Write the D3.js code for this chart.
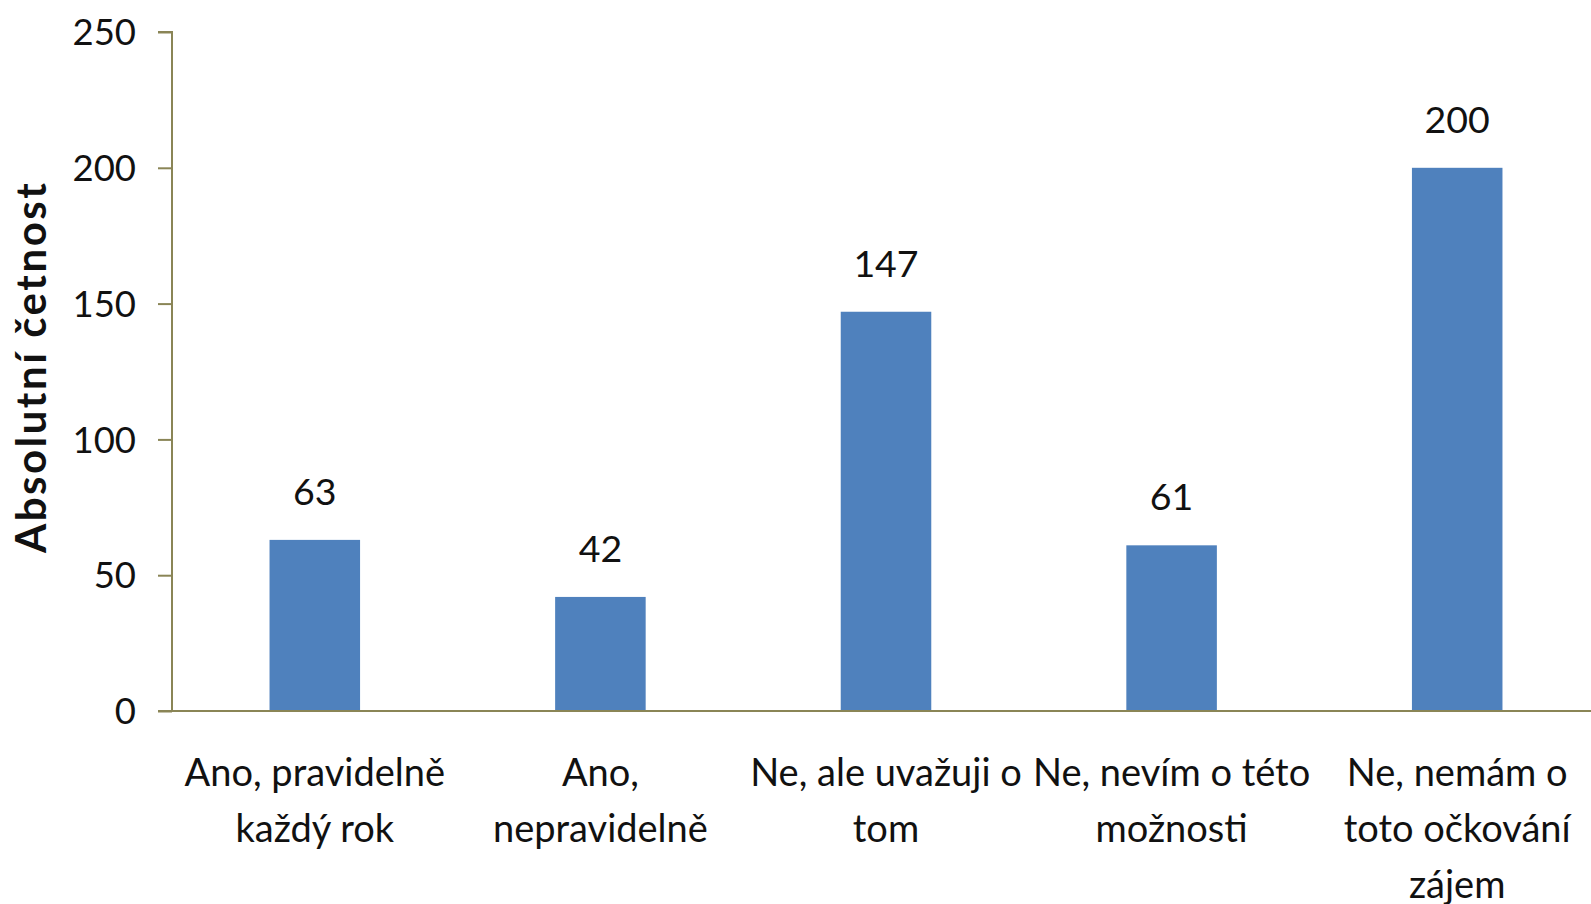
<!DOCTYPE html>
<html>
<head>
<meta charset="utf-8">
<script src="https://cdn.jsdelivr.net/npm/d3@7"></script>
<style>
  html, body { margin: 0; padding: 0; background: #fff; }
  svg { display: block; }
  text { font-family: Lato, "Open Sans", sans-serif; fill: #111; }
</style>
</head>
<body>
<svg id="chart" width="1591" height="904"></svg>
<script>
const categories = [
  "Ano, pravidelně každý rok",
  "Ano, nepravidelně",
  "Ne, ale uvažuji o tom",
  "Ne, nevím o této možnosti",
  "Ne, nemám o toto očkování zájem"
];
const categoryLines = [
  ["Ano, pravidelně", "každý rok"],
  ["Ano,", "nepravidelně"],
  ["Ne, ale uvažuji o", "tom"],
  ["Ne, nevím o této", "možnosti"],
  ["Ne, nemám o", "toto očkování", "zájem"]
];
const values = [63, 42, 147, 61, 200];
const yTicks = [0, 50, 100, 150, 200, 250];
const yTitle = "Absolutní četnost";

const svg = d3.select("#chart");
const mLeft = 172, mRight = 1600, mTop = 32, mBottom = 711, svgW = 1591;
const axisColor = "#8A8556";

const x = d3.scaleBand().domain(categories).range([mLeft, mRight])
  .paddingInner(0.683).paddingOuter(0.3415);
const y = d3.scaleLinear().domain([0, 250]).range([mBottom, mTop]);

// bars
svg.append("g").selectAll("rect").data(values).join("rect")
  .attr("x", (d, i) => x(categories[i]))
  .attr("y", d => y(d))
  .attr("width", x.bandwidth())
  .attr("height", d => y(0) - y(d))
  .attr("fill", "#4F81BD");

// data labels
svg.append("g").selectAll("text").data(values).join("text")
  .attr("x", (d, i) => x(categories[i]) + x.bandwidth() / 2)
  .attr("y", d => y(d) - 35)
  .attr("text-anchor", "middle")
  .attr("font-size", 37.5)
  .text(d => d);

// y axis
const yAxis = svg.append("g").attr("transform", `translate(${mLeft},0)`)
  .call(d3.axisLeft(y).tickValues(yTicks).tickSize(14).tickPadding(22).tickFormat(d3.format("d")));
yAxis.selectAll("path, line").attr("stroke", axisColor).attr("stroke-width", 2);
yAxis.select(".domain").attr("d", `M-14,${y(250)}H0V${y(0)}`);
yAxis.selectAll("text").attr("font-size", 36.5).attr("font-family", "Lato, sans-serif").attr("fill", "#111").attr("dy", "0.35em");

// x axis
const xAxis = svg.append("g").attr("transform", `translate(0,${mBottom})`)
  .call(d3.axisBottom(x).tickSize(0).tickFormat(""));
xAxis.select(".domain").attr("d", `M${mLeft - 14},0H${svgW}`).attr("stroke", axisColor).attr("stroke-width", 2);

// category labels
const lab = svg.append("g").selectAll("text").data(categories).join("text")
  .attr("text-anchor", "middle")
  .attr("font-size", 38)
  .attr("x", d => x(d) + x.bandwidth() / 2)
  .attr("y", 786);
lab.each(function(d, i) {
  const t = d3.select(this);
  categoryLines[i].forEach((ln, j) => {
    t.append("tspan").attr("x", x(d) + x.bandwidth() / 2).attr("y", 786 + j * 56).text(ln);
  });
});

// y title
svg.append("text")
  .attr("transform", `translate(46,368) rotate(-90)`)
  .attr("text-anchor", "middle")
  .attr("font-size", 42)
  .attr("font-weight", "bold")
  .attr("textLength", 370)
  .attr("lengthAdjust", "spacing")
  .text(yTitle);
</script>
</body>
</html>
